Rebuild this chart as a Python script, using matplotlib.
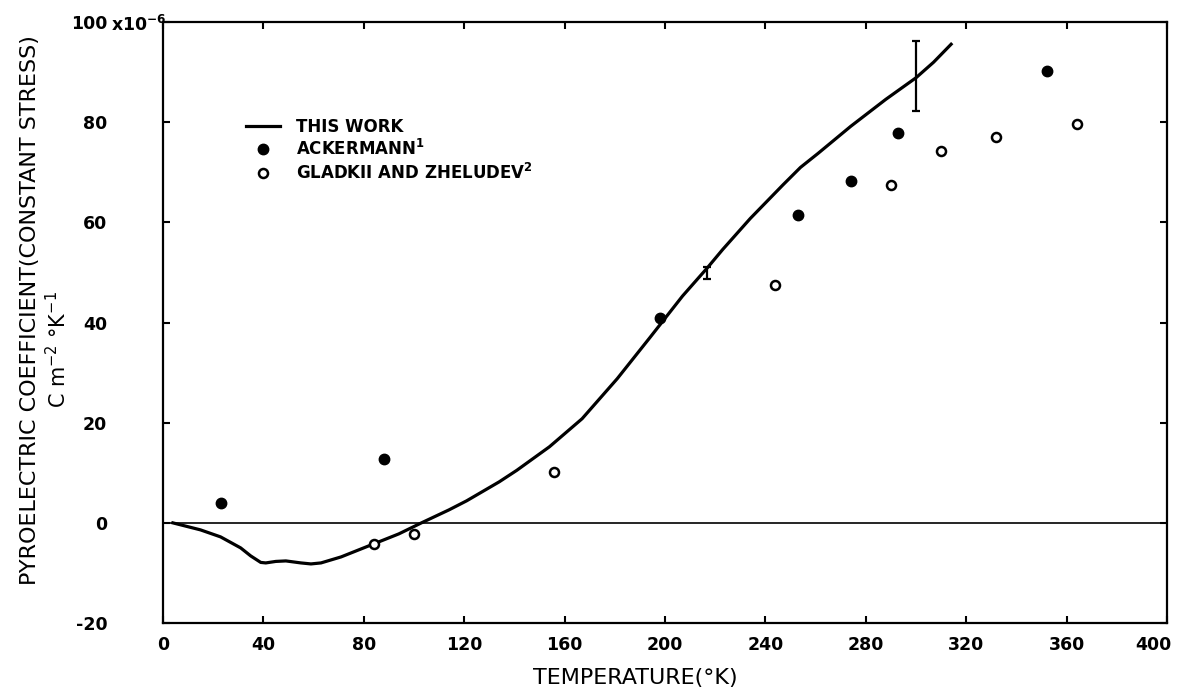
import matplotlib.pyplot as plt
from matplotlib.transforms import ScaledTranslation

# curve "this work"
curve_t = [4, 15, 23, 31, 35, 39, 41, 45, 49, 55, 59, 63, 71, 84, 94, 103, 114, 121,
           134, 141, 154, 167, 181, 194, 207, 217, 223, 234, 247, 254, 261, 274, 288, 300, 307, 314]
curve_p = [0, -1.4, -2.8, -5, -6.6, -7.9, -8, -7.7, -7.6, -8, -8.2, -8, -6.8, -4.2, -2.2, 0, 2.6, 4.4,
           8.2, 10.5, 15.2, 20.8, 28.8, 37, 45.3, 51, 54.6, 60.8, 67.5, 71, 73.8, 79.2, 84.6, 88.9, 92, 95.6]

# Ackermann (filled)
ack_t = [23, 88, 198, 253, 274, 293, 352]
ack_p = [4, 12.8, 41, 61.5, 68.2, 77.8, 90.2]

# Gladkii and Zheludev (open)
glad_t = [84, 100, 156, 244, 290, 310, 332, 364]
glad_p = [-4.2, -2.2, 10.2, 47.5, 67.4, 74.2, 77, 79.6]

# error bars on the curve
err_t = [216.7, 300]
err_p = [50, 89.2]
err_d = [1.2, 7]

fig = plt.figure(figsize=(11.8, 6.94), dpi=100)
ax = fig.add_axes([0.138, 0.1023, 0.851, 0.8657])

ax.axhline(0, color='black', lw=1.2)
ax.plot(curve_t, curve_p, color='black', lw=2.3, label="THIS WORK")
ax.plot(ack_t, ack_p, 'o', color='black', ms=7.5, label="ACKERMANN$^{\\mathbf{1}}$")
ax.plot(glad_t, glad_p, 'o', mfc='white', mec='black', ms=6.5, mew=1.8,
        label="GLADKII AND ZHELUDEV$^{\\mathbf{2}}$")
ax.errorbar(err_t, err_p, yerr=err_d, fmt='none', ecolor='black', elinewidth=1.6,
            capsize=3, capthick=1.6)

ax.set_xlim(0, 400)
ax.set_ylim(-20, 100)
ax.set_xticks(range(0, 401, 40))
ax.set_yticks(range(-20, 101, 20))
ax.set_yticklabels(['-20', '0', '20', '40', '60', '80', '100'])
ax.tick_params(direction='in', length=5, width=1.5, top=True, right=True,
               labelsize=12.5)
ax.tick_params(axis='y', pad=40)
ax.tick_params(axis='x', pad=9)
for lab in ax.get_xticklabels() + ax.get_yticklabels():
    lab.set_fontweight('bold')
for s in ax.spines.values():
    s.set_linewidth(1.6)

# last x label sits a bit left of the spine in the original
last = ax.get_xticklabels()[-1]
last.set_transform(last.get_transform() + ScaledTranslation(-0.14, 0, fig.dpi_scale_trans))

ax.text(-0.052, 99.5, "x10$^{\\mathbf{-6}}$", transform=ax.get_yaxis_transform(),
        ha='left', va='center', fontsize=12.5, fontweight='bold')

leg = ax.legend(loc='upper left', bbox_to_anchor=(0.075, 0.855), frameon=False,
                fontsize=12, handlelength=2.0, handletextpad=1.0, labelspacing=0.2,
                borderpad=0)
for t in leg.get_texts():
    t.set_fontweight('bold')

fig.text(635 / 1180, 1 - 678 / 694, "TEMPERATURE(°K)", ha='center', va='center',
         fontsize=16)
fig.text(30 / 1180, 1 - 310 / 694, "PYROELECTRIC COEFFICIENT(CONSTANT STRESS)",
         rotation=90, ha='center', va='center', fontsize=16)
fig.text(58 / 1180, 1 - 350 / 694, "C m$^{-2}$ °K$^{-1}$", rotation=90,
         ha='center', va='center', fontsize=15)

fig.savefig("out.png", dpi=100)
